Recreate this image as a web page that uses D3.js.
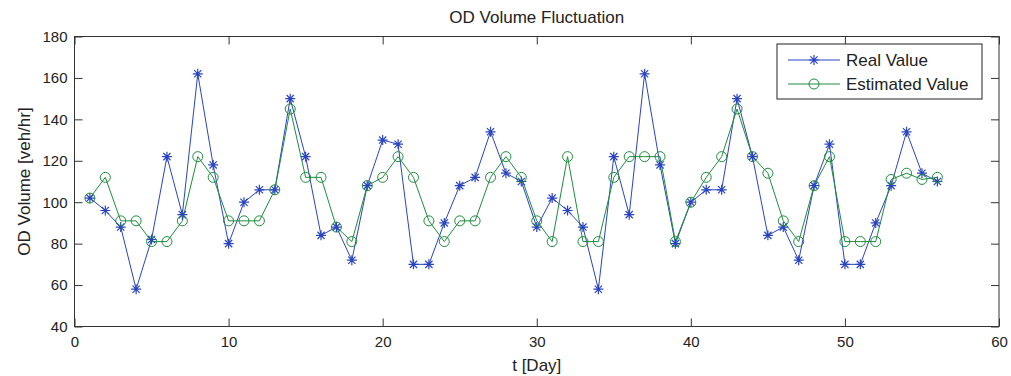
<!DOCTYPE html>
<html>
<head>
<meta charset="utf-8">
<script src="https://cdn.jsdelivr.net/npm/d3@7"></script>
<style>
  body { margin: 0; background: #fff; }
  svg { display: block; font-family: Arial, "Liberation Sans", sans-serif; }
</style>
</head>
<body>
<svg id="chart" width="1011" height="376"></svg>
<script>
// Day index 1..56
const days = d3.range(1, 57);

const realValues = [
  102, 96, 88, 58, 82, 122, 94, 162, 118, 80,
  100, 106, 106, 150, 122, 84, 88, 72, 108, 130,
  128, 70, 70, 90, 108, 112, 134, 114, 110, 88,
  102, 96, 88, 58, 122, 94, 162, 118, 80, 100,
  106, 106, 150, 122, 84, 88, 72, 108, 128, 70,
  70, 90, 108, 134, 114, 110
];

const estimatedValues = [
  102, 112, 91, 91, 81, 81, 91, 122, 112, 91,
  91, 91, 106, 145, 112, 112, 88, 81, 108, 112,
  122, 112, 91, 81, 91, 91, 112, 122, 112, 91,
  81, 122, 81, 81, 112, 122, 122, 122, 81, 100,
  112, 122, 145, 122, 114, 91, 81, 108, 122, 81,
  81, 81, 111, 114, 111, 112
];

const xTicks = [0, 10, 20, 30, 40, 50, 60];
const yTicks = [40, 60, 80, 100, 120, 140, 160, 180];

const seriesNames = ['Real Value', 'Estimated Value'];
const BLUE = '#2a44c0';
const GREEN = '#1e8c3e';

const svg = d3.select('#chart');

const plotLeft = 74.5;
const plotRight = 999;
const plotTop = 36.5;
const plotBottom = 326.5;

const x = d3.scaleLinear().domain([0, 60]).range([plotLeft, plotRight]);
const y = d3.scaleLinear().domain([40, 180]).range([plotBottom, plotTop]);

// Axes with inward ticks on all four sides (MATLAB box)
const tickLen = 8;
const g = svg.append('g');

g.append('g')
  .attr('transform', `translate(0,${plotBottom})`)
  .call(d3.axisBottom(x).tickValues(xTicks).tickSizeInner(-tickLen).tickSizeOuter(0).tickPadding(10))
  .call((a) => a.select('.domain').remove());

g.append('g')
  .attr('transform', `translate(0,${plotTop})`)
  .call(d3.axisTop(x).tickValues(xTicks).tickSizeInner(-tickLen).tickSizeOuter(0).tickFormat(''))
  .call((a) => a.select('.domain').remove());

g.append('g')
  .attr('transform', `translate(${plotLeft},0)`)
  .call(d3.axisLeft(y).tickValues(yTicks).tickSizeInner(-tickLen).tickSizeOuter(0).tickPadding(7))
  .call((a) => a.select('.domain').remove());

g.append('g')
  .attr('transform', `translate(${plotRight},0)`)
  .call(d3.axisRight(y).tickValues(yTicks).tickSizeInner(-tickLen).tickSizeOuter(0).tickFormat(''))
  .call((a) => a.select('.domain').remove());

g.selectAll('.tick line').attr('stroke', '#333');
g.selectAll('.tick text')
  .style('font-size', '15px')
  .style('font-family', 'Arial, "Liberation Sans", sans-serif')
  .attr('fill', '#222');

// box around the plot area
g.append('rect')
  .attr('x', plotLeft)
  .attr('y', plotTop)
  .attr('width', plotRight - plotLeft)
  .attr('height', plotBottom - plotTop)
  .attr('fill', 'none')
  .attr('stroke', '#333')
  .attr('stroke-width', 1);

// Series
const line = d3.line().x((d) => x(d[0])).y((d) => y(d[1]));

const realData = days.map((d, i) => [d, realValues[i]]);
const estData = days.map((d, i) => [d, estimatedValues[i]]);

function drawStar(sel, cx, cy, r, color) {
  const d = r * 0.72;
  sel.append('path')
    .attr('d', `M${cx - r},${cy}H${cx + r}M${cx},${cy - r}V${cy + r}` +
      `M${cx - d},${cy - d}L${cx + d},${cy + d}M${cx - d},${cy + d}L${cx + d},${cy - d}`)
    .attr('stroke', color)
    .attr('stroke-width', 1.2)
    .attr('fill', 'none');
}

const plot = svg.append('g');

plot.append('path')
  .datum(realData)
  .attr('d', line)
  .attr('fill', 'none')
  .attr('stroke', BLUE)
  .attr('stroke-width', 1);

plot.append('path')
  .datum(estData)
  .attr('d', line)
  .attr('fill', 'none')
  .attr('stroke', GREEN)
  .attr('stroke-width', 1);

const stars = plot.append('g');
realData.forEach((d) => drawStar(stars, x(d[0]), y(d[1]), 5, BLUE));

plot.append('g')
  .selectAll('circle')
  .data(estData)
  .enter()
  .append('circle')
  .attr('cx', (d) => x(d[0]))
  .attr('cy', (d) => y(d[1]))
  .attr('r', 5)
  .attr('fill', 'none')
  .attr('stroke', GREEN)
  .attr('stroke-width', 1);

// Title and axis labels
svg.append('text')
  .attr('x', (plotLeft + plotRight) / 2)
  .attr('y', 23)
  .attr('text-anchor', 'middle')
  .style('font-size', '17px')
  .attr('fill', '#222')
  .text('OD Volume Fluctuation');

svg.append('text')
  .attr('x', (plotLeft + plotRight) / 2)
  .attr('y', 371)
  .attr('text-anchor', 'middle')
  .style('font-size', '17px')
  .attr('fill', '#222')
  .text('t [Day]');

svg.append('text')
  .attr('transform', `translate(30,${(plotTop + plotBottom) / 2}) rotate(-90)`)
  .attr('text-anchor', 'middle')
  .style('font-size', '17px')
  .attr('fill', '#222')
  .text('OD Volume [veh/hr]');

// Legend
const legend = svg.append('g').attr('transform', 'translate(777,44)');
legend.append('rect')
  .attr('width', 205)
  .attr('height', 55)
  .attr('fill', '#fff')
  .attr('stroke', '#222')
  .attr('stroke-width', 1);

const legendColors = [BLUE, GREEN];
seriesNames.forEach((name, i) => {
  const ly = 16 + i * 24;
  legend.append('line')
    .attr('x1', 11).attr('x2', 63)
    .attr('y1', ly).attr('y2', ly)
    .attr('stroke', legendColors[i])
    .attr('stroke-width', 1);
  if (i === 0) {
    drawStar(legend, 37, ly, 5, BLUE);
  } else {
    legend.append('circle')
      .attr('cx', 37).attr('cy', ly).attr('r', 5)
      .attr('fill', 'none').attr('stroke', GREEN);
  }
  legend.append('text')
    .attr('x', 69)
    .attr('y', ly + 6)
    .style('font-size', '17px')
    .attr('fill', '#222')
    .text(name);
});
</script>
</body>
</html>
